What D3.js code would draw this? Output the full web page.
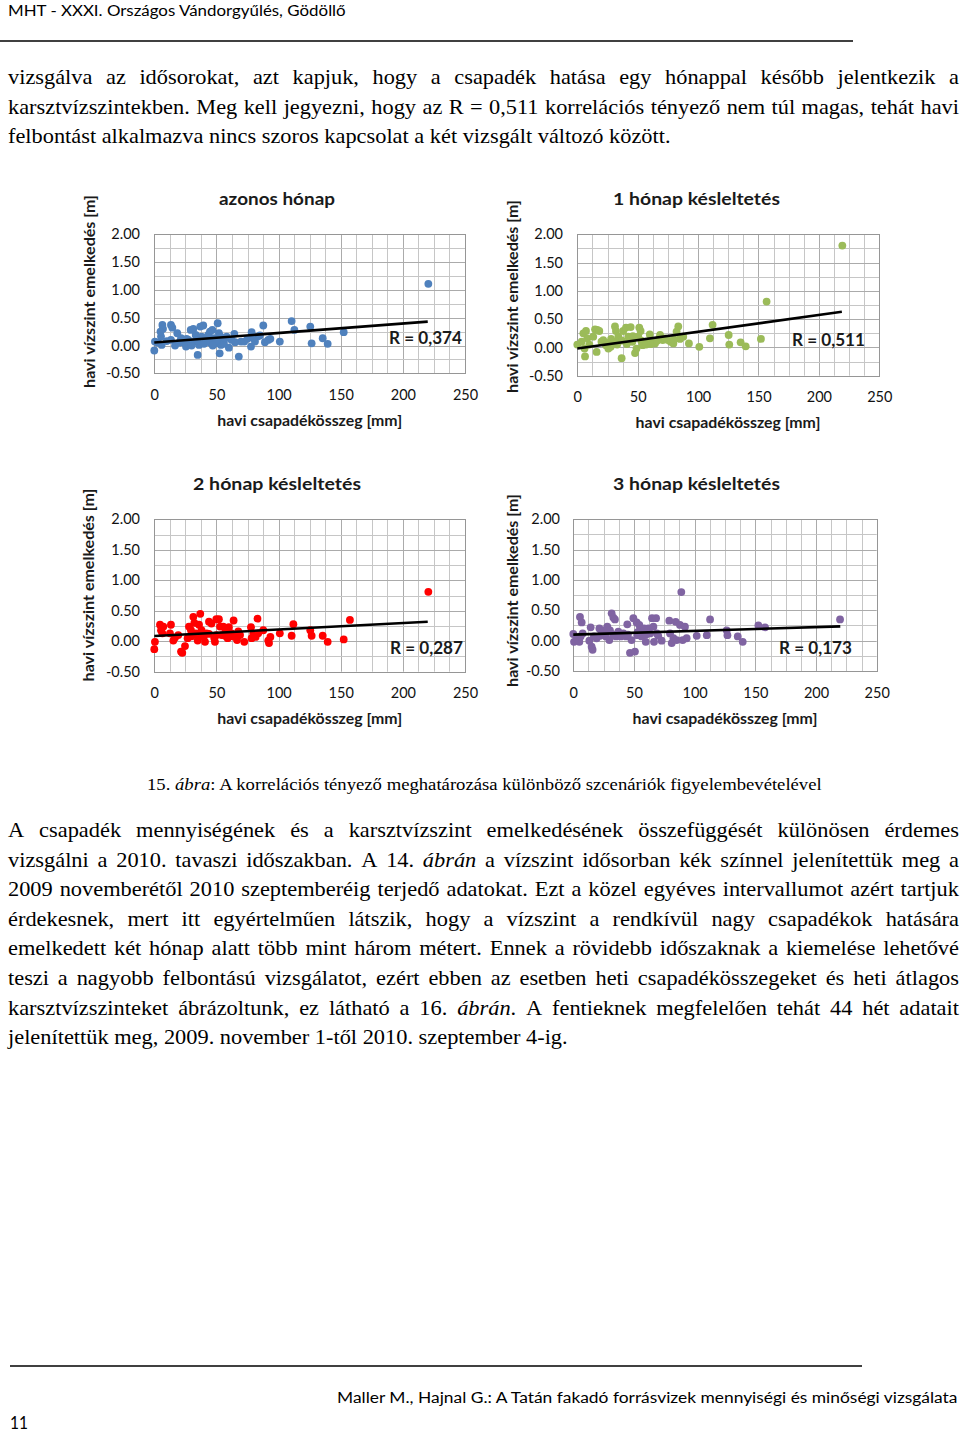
<!DOCTYPE html>
<html><head><meta charset="utf-8">
<script src="https://cdn.jsdelivr.net/npm/d3@7"></script>
<style>body{margin:0;background:#fff}svg{display:block}</style>
</head><body>
<svg id="page" width="960" height="1433"></svg>
<script>
// ---------------- DATA ----------------
const titles = ["azonos hónap", "1 hónap késleltetés", "2 hónap késleltetés", "3 hónap késleltetés"];
const rLabels = ["R = 0,374", "R = 0,511", "R = 0,287", "R = 0,173"];
const seriesColors = ["#4F81BD", "#9BBB59", "#FF0000", "#8064A2"];
const xTicks = [0, 50, 100, 150, 200, 250];
const yTicks = [-0.5, 0, 0.5, 1, 1.5, 2];
const xAxisTitle = "havi csapadékösszeg [mm]";
const yAxisTitle = "havi vízszint emelkedés [m]";

const trend0 = [[0, 0.055], [220, 0.43]];
const trend1 = [[0, -0.02], [219, 0.63]];
const trend2 = [[0, 0.085], [220, 0.32]];
const trend3 = [[0, 0.10], [220, 0.235]];

const points0 = [[0,-0.09],[0.5,0.07],[5.4,0.16],[5.9,0.01],[6.5,0.37],[7,0.30],[5,0.25],[13.4,0.37],[14.5,0.32],[13.4,0.10],[16.7,0.0],[18.5,0.22],[21.5,0.13],[23.3,0.06],[25.5,-0.02],[27.4,0.10],[29.3,0.28],[31.4,0.30],[32.2,0.07],[33.3,0.19],[34.9,-0.17],[36,0.01],[37,0.34],[39.4,0.36],[38,0.16],[41.3,0.07],[43.4,0.19],[44.8,0.25],[46.7,0.28],[48.3,0.13],[49.3,0.04],[51,0.40],[52,0.22],[52.6,-0.14],[53.6,0.01],[54.2,0.12],[55.8,0.07],[58.2,0.16],[60,-0.04],[62.2,0.10],[64.4,0.21],[68,-0.20],[69.8,0.07],[72.4,0.07],[77.8,-0.02],[78.3,0.24],[81,0.07],[83,0.16],[87.7,0.36],[89,0.06],[91.7,0.10],[93.4,0.12],[101,0.07],[110.5,0.44],[112.7,0.28],[125.5,0.34],[126.6,0.04],[135.5,0.13],[139.5,0.03],[152.4,0.24],[220.5,1.11],[20,0.05],[26,0.12],[30,0.0],[35,0.09],[40,0.03],[42,0.14],[45,0.05],[50,0.09],[53,0.17],[56,0.03],[57,0.13],[65,0.06],[75,0.12],[80,0.14],[85,0.18],[47,0.0],[10,0.08],[3,0.05]];

const points1 = [[0,0.05],[3.6,0.10],[5,0.25],[6.4,-0.16],[7.2,0.29],[8.3,0.16],[6,-0.02],[13.2,0.19],[14.7,0.32],[16,-0.08],[16.6,0.31],[18.2,0.29],[20,0.10],[21.5,0.13],[23.7,0.04],[25.7,-0.02],[27.6,0.01],[29.8,0.10],[31.2,0.37],[32,0.29],[34,0.19],[35.3,0.13],[36.7,-0.19],[38,0.29],[40.3,0.35],[42.2,0.19],[44.2,0.36],[45.6,0.10],[47.8,-0.10],[49,-0.02],[50.5,0.19],[51.3,0.35],[52.4,0.29],[54,0.04],[56.8,0.10],[59.6,0.11],[60,0.23],[62.4,0.10],[64.3,0.07],[67.9,0.16],[68.5,0.22],[70.7,0.13],[72.6,0.16],[77.3,0.10],[79.5,0.07],[82.2,0.28],[83.6,0.37],[85,0.15],[87.7,0.19],[92.4,0.07],[101,0.01],[109.8,0.16],[112,0.40],[125.3,0.22],[125.8,0.05],[135.2,0.09],[139.4,0.02],[152,0.15],[156.7,0.81],[219.4,1.80],[10,0.05],[25,0.08],[28,0.15],[33,0.05],[37,0.12],[41,0.06],[46,0.20],[53,0.12],[57,0.05],[61,0.06],[66,0.12],[75,0.13],[80,0.14]];

const points2 = [[0,-0.13],[0.5,-0.01],[4.6,0.27],[5.4,0.18],[6.5,0.13],[7.3,0.24],[13.4,0.27],[12.6,0.13],[15.3,0.01],[16.7,0.06],[19.3,0.10],[21.5,-0.17],[22.5,-0.19],[24.7,-0.08],[26.8,0.05],[27.9,0.24],[29.5,0.18],[31.4,0.40],[32.2,0.30],[33.3,0.13],[34.9,0.01],[36,0.27],[37,0.45],[38,0.18],[39.7,0.07],[40.8,-0.01],[42.1,0.13],[44,0.32],[46,0.29],[48.3,0.05],[48.8,-0.01],[49.9,0.36],[52,0.36],[52.9,0.24],[54.2,0.10],[55.5,0.24],[57.4,0.18],[59,0.05],[60,0.23],[62.2,0.13],[63.8,0.34],[65.5,0.07],[66.6,0.02],[67.6,0.16],[72.4,-0.01],[77.8,0.23],[78.3,0.05],[79.7,0.13],[81.5,0.07],[83,0.37],[83.6,0.13],[87.7,0.18],[91.7,0.01],[92.3,-0.03],[93.4,0.07],[101,0.13],[110.5,0.09],[111.9,0.28],[125.5,0.18],[126.6,0.09],[135.5,0.09],[139.5,-0.01],[152.4,0.03],[157.4,0.35],[220.5,0.81],[30,0.08],[35,0.10],[44,0.12],[50,0.10],[57,0.09],[63,0.08],[69,0.10]];

const points3 = [[0,0.11],[0.6,-0.02],[2.8,0.04],[5.5,0.39],[6.9,0.30],[5,-0.02],[7.7,0.12],[6,0.07],[13.2,0.0],[14.3,0.22],[15.1,-0.10],[15.9,-0.15],[17,0.07],[19.2,0.04],[21.5,0.20],[23.4,0.12],[25.3,0.17],[26.9,0.07],[28,0.23],[29.7,0.01],[30.2,0.17],[31.6,0.45],[33,0.38],[34.3,0.35],[35.2,0.07],[37.1,0.15],[39.1,0.07],[41.3,0.12],[43.4,0.07],[44.5,0.27],[46.7,-0.20],[48,0.01],[49.5,0.37],[50.8,-0.18],[52.2,0.30],[52.7,0.09],[54.4,0.26],[55,0.18],[56.3,0.07],[58.3,0.20],[59.7,-0.02],[61.8,0.20],[63.2,0.12],[64.9,0.37],[66,0.23],[66.5,-0.02],[68.2,0.37],[68.8,0.12],[72.8,0.0],[79.1,0.33],[79.7,0.12],[81.1,-0.04],[82.5,0.04],[84.4,0.31],[85.2,0.01],[87.9,0.26],[89,0.80],[90.1,0.01],[92,0.23],[93.4,0.04],[101.7,0.08],[110,0.09],[112.7,0.35],[126.4,0.17],[127,0.09],[135.5,0.07],[139.6,-0.02],[152.5,0.25],[158,0.22],[219.8,0.35],[22,0.08],[33,0.10],[38,0.12],[45,0.10],[53,0.14],[60,0.10],[70,0.08]];

// ---------------- LAYOUT ----------------
const allPoints = [points0, points1, points2, points3];
const allTrends = [trend0, trend1, trend2, trend3];
const layout = [
  {x0:154.3,x1:465,  y0:234.3,y1:373.3, tx:277,  ty:205, tw:116, yx:89,  yy:291.5, xx:309.7, xy:426, xtb:400, rx:389, ry:344, ytr:140},
  {x0:577.3,x1:879.3,y0:234.3,y1:375.7, tx:696.5,ty:205, tw:167, yx:512, yy:296.5, xx:728,   xy:428, xtb:402, rx:792, ry:346, ytr:563},
  {x0:154.3,x1:465,  y0:519.3,y1:671.7, tx:277,  ty:490, tw:168, yx:88,  yy:585,   xx:309.7, xy:724, xtb:698, rx:390, ry:654, ytr:140},
  {x0:573.3,x1:876.7,y0:519.3,y1:671,   tx:696.5,ty:490, tw:167, yx:512, yy:590.5, xx:725,   xy:724, xtb:698, rx:779, ry:654, ytr:560}
];

const svg = d3.select("#page");
const SANS = "Lato, 'Open Sans', sans-serif";
const SERIF = "'Liberation Serif', 'Times New Roman', serif";
const px = v => Math.round(v) + 0.5;

function fitScale(sel, width) {
  const w = sel.node().getComputedTextLength();
  return width / w;
}

// ---------------- CHARTS ----------------
layout.forEach((L, i) => {
  const x = d3.scaleLinear().domain([0, 250]).range([L.x0, L.x1]);
  const y = d3.scaleLinear().domain([-0.5, 2]).range([L.y1, L.y0]);
  const g = svg.append("g");

  const xGrid = d3.range(0, 250.01, 12.5);
  const yGrid = d3.range(-0.5, 2.001, 0.25);
  g.append("g").selectAll("line").data(xGrid).join("line")
    .attr("x1", d => px(x(d))).attr("x2", d => px(x(d)))
    .attr("y1", L.y0).attr("y2", L.y1)
    .attr("stroke", d => d % 50 === 0 ? "#ababab" : "#c6c6c6").attr("stroke-width", 1);
  g.append("g").selectAll("line").data(yGrid).join("line")
    .attr("y1", d => px(y(d))).attr("y2", d => px(y(d)))
    .attr("x1", L.x0).attr("x2", L.x1)
    .attr("stroke", d => Math.abs(d * 2 - Math.round(d * 2)) < 1e-6 ? "#ababab" : "#c6c6c6").attr("stroke-width", 1);
  g.append("rect").attr("x", px(L.x0)).attr("y", px(L.y0))
    .attr("width", Math.round(L.x1) - Math.round(L.x0)).attr("height", Math.round(L.y1) - Math.round(L.y0))
    .attr("fill", "none").attr("stroke", "#969696");

  g.append("g").selectAll("circle").data(allPoints[i]).join("circle")
    .attr("cx", d => x(d[0])).attr("cy", d => y(d[1])).attr("r", 3.9)
    .attr("fill", seriesColors[i]);

  g.append("path").datum(allTrends[i])
    .attr("d", d3.line().x(d => x(d[0])).y(d => y(d[1])))
    .attr("stroke", "#000").attr("stroke-width", 2.6).attr("fill", "none");

  // axes (labels only)
  const ya = g.append("g").attr("transform", `translate(${L.x0},0)`)
    .call(d3.axisLeft(y).tickValues(yTicks).tickFormat(d => d.toFixed(2)).tickSize(0).tickPadding(L.x0 - L.ytr));
  ya.select(".domain").remove();
  ya.attr("font-family", SANS).attr("font-size", 14.5).selectAll("text").attr("fill", "#111");

  const fs = 14.5;
  const xa = g.append("g").attr("transform", `translate(0,${L.y1})`)
    .call(d3.axisBottom(x).tickValues(xTicks).tickFormat(d3.format("d")).tickSize(0).tickPadding(L.xtb - L.y1 - 0.71 * fs));
  xa.select(".domain").remove();
  xa.attr("font-family", SANS).attr("font-size", fs).selectAll("text").attr("fill", "#111");

  // titles
  const t = g.append("text").text(titles[i]).attr("font-family", SANS).attr("font-size", 17.5)
    .attr("font-weight", "bold").attr("text-anchor", "middle").attr("fill", "#1a1a1a");
  t.attr("transform", `translate(${L.tx},${L.ty}) scale(${fitScale(t, L.tw)},1)`);

  const xt = g.append("text").text(xAxisTitle).attr("font-family", SANS).attr("font-size", 14.5)
    .attr("font-weight", "bold").attr("text-anchor", "middle").attr("fill", "#1a1a1a");
  xt.attr("transform", `translate(${L.xx},${L.xy}) scale(${fitScale(xt, 185)},1)`);

  const yt = g.append("text").text(yAxisTitle).attr("font-family", SANS).attr("font-size", 14.5)
    .attr("font-weight", "bold").attr("text-anchor", "middle").attr("dominant-baseline", "central").attr("fill", "#1a1a1a");
  yt.attr("transform", `translate(${L.yx},${L.yy}) rotate(-90) scale(${fitScale(yt, 193)},1)`);

  const rt = g.append("text").text(rLabels[i]).attr("font-family", SANS).attr("font-size", 17)
    .attr("font-weight", "bold").attr("fill", "#1a1a1a");
  rt.attr("transform", `translate(${L.rx},${L.ry}) scale(${fitScale(rt, 73)},1)`);
});

// ---------------- PAGE TEXT ----------------
const header = "MHT - XXXI. Országos Vándorgyűlés, Gödöllő";
const footer = "Maller M., Hajnal G.: A Tatán fakadó forrásvizek mennyiségi és minőségi vizsgálata";
const pageNo = "11";
const para1 = [
  "vizsgálva az idősorokat, azt kapjuk, hogy a csapadék hatása egy hónappal később jelentkezik a",
  "karsztvízszintekben. Meg kell jegyezni, hogy az R = 0,511 korrelációs tényező nem túl magas, tehát havi",
  "felbontást alkalmazva nincs szoros kapcsolat a két vizsgált változó között."
];
const caption = "15. *ábra*: A korrelációs tényező meghatározása különböző szcenáriók figyelembevételével";
const para2 = [
  "A csapadék mennyiségének és a karsztvízszint emelkedésének összefüggését különösen érdemes",
  "vizsgálni a 2010. tavaszi időszakban. A 14. *ábrán* a vízszint idősorban kék színnel jelenítettük meg a",
  "2009 novemberétől 2010 szeptemberéig terjedő adatokat. Ezt a közel egyéves intervallumot azért tartjuk",
  "érdekesnek, mert itt egyértelműen látszik, hogy a vízszint a rendkívül nagy csapadékok hatására",
  "emelkedett két hónap alatt több mint három métert. Ennek a rövidebb időszaknak a kiemelése lehetővé",
  "teszi a nagyobb felbontású vizsgálatot, ezért ebben az esetben heti csapadékösszegeket és heti átlagos",
  "karsztvízszinteket ábrázoltunk, ez látható a 16. *ábrán*. A fentieknek megfelelően tehát 44 hét adatait",
  "jelenítettük meg, 2009. november 1-től 2010. szeptember 4-ig."
];

function addRich(parent, str) {
  const t = parent.append("text").attr("xml:space", "preserve");
  const re = /\*([^*]+)\*|([^*]+)/g; let m;
  while ((m = re.exec(str))) {
    if (m[1] !== undefined) t.append("tspan").attr("font-style", "italic").text(m[1]);
    else t.append("tspan").text(m[2]);
  }
  return t;
}

function drawPara(lines, x0, x1, baseline0, lead, lastWidth, fs) {
  const g = svg.append("g").attr("font-family", SERIF).attr("font-size", fs).attr("fill", "#000");
  const last = addRich(g, lines[lines.length - 1]);
  const sx = lastWidth / last.node().getComputedTextLength();
  last.attr("transform", `translate(${x0},${baseline0 + lead * (lines.length - 1)}) scale(${sx},1)`);
  lines.slice(0, -1).forEach((line, li) => {
    const yb = baseline0 + lead * li;
    const words = line.split(" ");
    const nodes = words.map(w => addRich(g, w));
    const widths = nodes.map(n => n.node().getComputedTextLength() * sx);
    const gap = (x1 - x0 - d3.sum(widths)) / (words.length - 1);
    let cx = x0;
    nodes.forEach((n, k) => {
      n.attr("transform", `translate(${cx},${yb}) scale(${sx},1)`);
      cx += widths[k] + gap;
    });
  });
}

// header
const h = svg.append("text").text(header).attr("font-family", SANS).attr("font-size", 15);
h.attr("transform", `translate(8,16) scale(${fitScale(h, 338)},1)`);
svg.append("line").attr("x1", 0).attr("x2", 853).attr("y1", 41).attr("y2", 41).attr("stroke", "#000").attr("stroke-width", 1.3);

drawPara(para1, 8, 959, 84, 29.5, 663, 21);

const cap = addRich(svg, caption).attr("font-family", SERIF).attr("font-size", 17.5);
cap.attr("transform", `translate(147,790) scale(${675 / cap.node().getComputedTextLength()},1)`);

drawPara(para2, 8, 959, 837, 29.6, 560, 21);

// footer
svg.append("line").attr("x1", 10).attr("x2", 862).attr("y1", 1366).attr("y2", 1366).attr("stroke", "#000").attr("stroke-width", 1.3);
const f = svg.append("text").text(footer).attr("font-family", SANS).attr("font-size", 16);
f.attr("transform", `translate(337,1403) scale(${fitScale(f, 621)},1)`);
const pn = svg.append("text").text(pageNo).attr("font-family", SANS).attr("font-size", 18);
pn.attr("transform", `translate(10,1429) scale(${fitScale(pn, 18)},1)`);
</script>
</body></html>
